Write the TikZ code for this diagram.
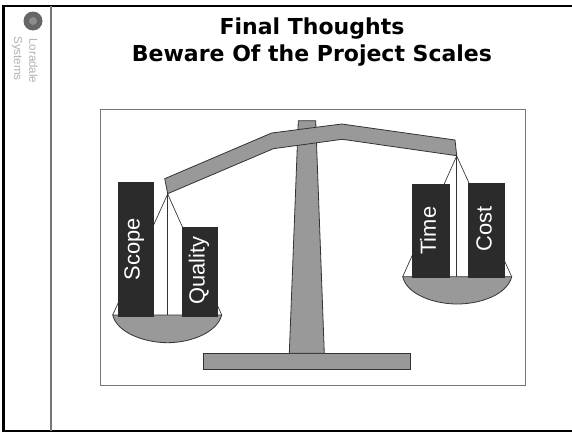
\documentclass[tikz,border=0pt]{standalone}
\usepackage{fontspec}
\setmainfont{Liberation Sans}
\newfontfamily\titlefont{DejaVu Sans}
\usepackage{tikz}
\usetikzlibrary{positioning}
\definecolor{scalegray}{HTML}{999999}
\definecolor{boxdark}{HTML}{2B2B2B}
\definecolor{edgegray}{HTML}{333333}
\definecolor{framegray}{HTML}{777777}
\tikzset{
  scalepart/.style={fill=scalegray,draw=edgegray,line width=0.6pt},
  weightbox/.style={fill=boxdark,draw=boxdark,line width=0.4pt},
  weightlabel/.style={font=\fontsize{16.4}{18}\selectfont,text=white,rotate=90,inner sep=0pt},
  panstring/.style={draw=edgegray,line width=0.5pt},
  logolabel/.style={font=\fontsize{8.7}{10}\selectfont,text=black!30,rotate=-90,anchor=west,inner sep=0pt},
  titlelabel/.style={font=\titlefont\bfseries\fontsize{16.5}{20}\selectfont,anchor=base}
}
\begin{document}
\begin{tikzpicture}[x=0.75pt,y=-0.75pt]
\useasboundingbox (0,0) rectangle (572,432);
\fill[white] (0,0) rectangle (572,432);
\draw[black,line width=1.3pt] (2,5.7) -- (572,5.7);
\draw[black,line width=2.4pt] (3.7,4.8) -- (3.7,432);
\draw[black,line width=0.8pt] (2,431) -- (572,431);
\draw[framegray,line width=1.2pt] (51,6) -- (51,431);
\fill[black!60] (33,21) circle (9.5);
\fill[black!45] (33,21) circle (4);
\node[logolabel] (logotop) at (33.5,38) {Loradale};
\node[logolabel] (logobottom) at (17,36) {Systems};

\node[titlelabel] (titletop) at (312,35) {Final Thoughts};
\node[titlelabel] (titlebottom) at (312,61) {Beware Of the Project Scales};

\draw[framegray,line width=0.9pt] (100.3,109.3) rectangle (525.5,385.5);

% stand
\draw[scalepart] (203.7,353.3) rectangle (410,369);
\draw[scalepart] (298.3,120.7) -- (315.7,120.7) -- (324.3,353.3) -- (289.3,353.3) -- cycle;
\draw[scalepart] (164.7,178.7) -- (271.7,133) -- (341.7,124) -- (455,140) -- (456.7,155.7) -- (342.3,139.3) -- (273.3,148.7) -- (167.7,193.7) -- cycle;

% left pan
\coordinate (leftpivot) at (167.7,194);
\coordinate (leftpanw) at (112.7,315);
\coordinate (leftpane) at (221.7,315);
\coordinate (leftpanc) at (167.7,315);
\draw[panstring] (leftpanw) -- (leftpivot) -- (leftpane);
\draw[panstring] (leftpivot) -- (leftpanc);
\draw[scalepart] (leftpanw) .. controls (117,333) and (145,342.7) .. (167.7,342.7) .. controls (190,342.7) and (217,333) .. (leftpane) -- cycle;
\draw[weightbox] (118,182) rectangle (153.7,316);
\draw[weightbox] (182,227) rectangle (217.7,316);
\node[weightlabel] (scope) at (134.3,249) {Scope};
\node[weightlabel] (quality) at (199,270.7) {Quality};

% right pan
\coordinate (rightpivot) at (456.7,156);
\coordinate (rightpanw) at (402.7,276.7);
\coordinate (rightpane) at (511.7,276.7);
\coordinate (rightpanc) at (456.7,276.7);
\draw[panstring] (rightpanw) -- (rightpivot) -- (rightpane);
\draw[panstring] (rightpivot) -- (rightpanc);
\draw[scalepart] (rightpanw) .. controls (407,295) and (435,304) .. (457,304) .. controls (480,304) and (507,295) .. (rightpane) -- cycle;
\draw[weightbox] (412.3,184) rectangle (449,277);
\draw[weightbox] (468,183.3) rectangle (504.7,277);
\node[weightlabel] (time) at (428,230.7) {Time};
\node[weightlabel] (cost) at (484,229) {Cost};
\end{tikzpicture}
\end{document}
